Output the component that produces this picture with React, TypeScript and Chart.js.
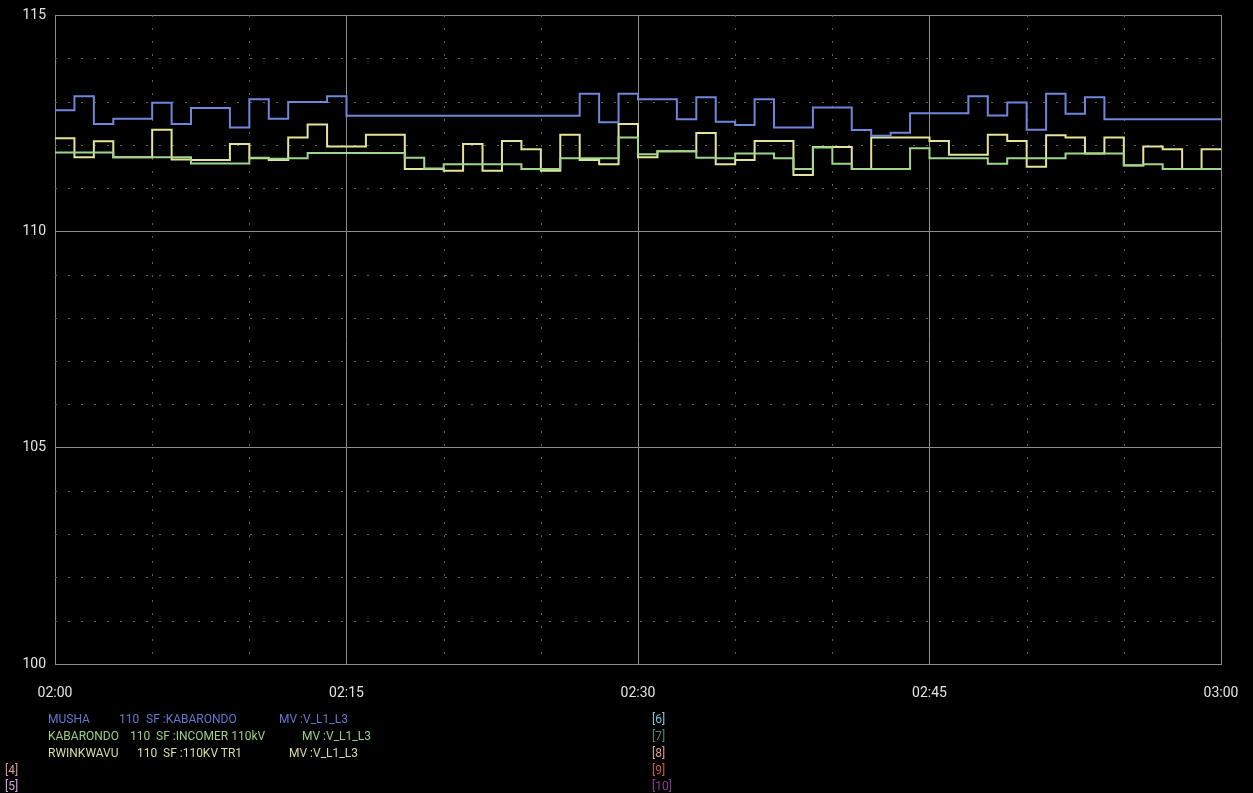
import React, { useEffect, useRef } from "react";
import { Chart, registerables } from "chart.js";

Chart.register(...registerables);

// Minutes after 02:00 (one sample per minute, 02:00 .. 02:59)
const minutes: number[] = Array.from({ length: 60 }, (_, i) => i);

const mushaValues: number[] = [
  112.8, 113.12, 112.48, 112.6, 112.6, 112.97, 112.48, 112.85, 112.85, 112.4,
  113.05, 112.6, 112.99, 112.99, 113.12, 112.67, 112.67, 112.67, 112.67, 112.67,
  112.67, 112.67, 112.67, 112.67, 112.67, 112.67, 112.67, 113.18, 112.52, 113.18,
  113.05, 113.05, 112.59, 113.1, 112.53, 112.46, 113.05, 112.4, 112.4, 112.86,
  112.86, 112.34, 112.21, 112.28, 112.73, 112.73, 112.73, 113.12, 112.68, 112.98,
  112.35, 113.18, 112.72, 113.1, 112.59, 112.59, 112.59, 112.59, 112.59, 112.59,
];

const kabarondoValues: number[] = [
  111.82, 111.82, 111.82, 111.71, 111.71, 111.71, 111.71, 111.57, 111.57, 111.57,
  111.7, 111.68, 111.69, 111.81, 111.81, 111.81, 111.81, 111.81, 111.7, 111.45,
  111.55, 111.55, 111.55, 111.55, 111.44, 111.44, 111.69, 111.69, 111.69, 112.17,
  111.78, 111.85, 111.85, 111.7, 111.69, 111.8, 111.8, 111.69, 111.44, 111.94,
  111.56, 111.44, 111.44, 111.44, 111.92, 111.69, 111.69, 111.69, 111.56, 111.69,
  111.69, 111.69, 111.8, 111.8, 111.8, 111.53, 111.55, 111.44, 111.44, 111.44,
];

const rwinkwavuValues: number[] = [
  112.15, 111.71, 112.08, 111.71, 111.71, 112.35, 111.66, 111.65, 111.65, 112.02,
  111.69, 111.65, 112.17, 112.47, 111.96, 111.96, 112.23, 112.23, 111.44, 111.44,
  111.4, 112.02, 111.4, 112.09, 111.9, 111.4, 112.23, 111.65, 111.55, 112.48,
  111.71, 111.85, 111.85, 112.27, 111.55, 111.65, 112.09, 112.09, 111.3, 111.95,
  111.95, 111.44, 112.17, 112.17, 112.17, 112.09, 111.77, 111.77, 112.23, 112.09,
  111.49, 112.22, 112.17, 111.8, 112.17, 111.52, 111.96, 111.9, 111.44, 111.9,
];

const seriesNames: string[] = ["MUSHA", "KABARONDO", "RWINKWAVU"];
const seriesColors: string[] = ["#6f86da", "#9fd68e", "#e4e496"];

const xMinorTicks: number[] = [5, 10, 20, 25, 35, 40, 50, 55];
const yMinorTicks: number[] = [101, 102, 103, 104, 106, 107, 108, 109, 111, 112, 113, 114];

type LegendPiece = { text: string; x: number };
type LegendRow = { color: string; y: number; pieces: LegendPiece[] };

const legendRows: LegendRow[] = [
  {
    color: "#6478d0",
    y: 719,
    pieces: [
      { text: "MUSHA", x: 48 },
      { text: "110", x: 119 },
      { text: "SF :KABARONDO", x: 146 },
      { text: "MV :V_L1_L3", x: 279 },
    ],
  },
  {
    color: "#9ccf86",
    y: 736,
    pieces: [
      { text: "KABARONDO", x: 48 },
      { text: "110", x: 130 },
      { text: "SF :INCOMER 110kV", x: 156 },
      { text: "MV :V_L1_L3", x: 302 },
    ],
  },
  {
    color: "#dcdca0",
    y: 753,
    pieces: [
      { text: "RWINKWAVU", x: 48 },
      { text: "110", x: 137 },
      { text: "SF :110KV TR1", x: 163 },
      { text: "MV :V_L1_L3", x: 289 },
    ],
  },
];

const slotLabels: { text: string; x: number; y: number; color: string }[] = [
  { text: "[4]", x: 5, y: 770, color: "#d89a8e" },
  { text: "[5]", x: 5, y: 786, color: "#d6a4e0" },
  { text: "[6]", x: 652, y: 719, color: "#7cc8d8" },
  { text: "[7]", x: 652, y: 736, color: "#4f8a6c" },
  { text: "[8]", x: 652, y: 753, color: "#dca48c" },
  { text: "[9]", x: 652, y: 770, color: "#cc5a4c" },
  { text: "[10]", x: 652, y: 786, color: "#8c3c98" },
];

const minorGridPlugin = {
  id: "minorGrid",
  beforeDatasetsDraw(chart: any) {
    const { ctx, chartArea, scales } = chart;
    const xs = scales.x;
    const ys = scales.y;
    ctx.save();
    ctx.strokeStyle = "#5e5e5e";
    ctx.lineWidth = 1;
    ctx.setLineDash([2, 11]);
    yMinorTicks.forEach((v) => {
      const py = Math.round(ys.getPixelForValue(v)) + 0.5;
      ctx.beginPath();
      ctx.moveTo(chartArea.left, py);
      ctx.lineTo(chartArea.right, py);
      ctx.stroke();
    });
    xMinorTicks.forEach((m) => {
      const px = Math.round(xs.getPixelForValue(m)) + 0.5;
      ctx.beginPath();
      ctx.moveTo(px, chartArea.top);
      ctx.lineTo(px, chartArea.bottom);
      ctx.stroke();
    });
    ctx.restore();
  },
};

function formatMinute(v: number): string {
  const h = 2 + Math.floor(v / 60);
  const m = v % 60;
  return `${String(h).padStart(2, "0")}:${String(m).padStart(2, "0")}`;
}

export default function App() {
  const canvasRef = useRef<HTMLCanvasElement | null>(null);

  useEffect(() => {
    if (!canvasRef.current) return;
    const allSeries = [mushaValues, kabarondoValues, rwinkwavuValues];
    const datasets = allSeries.map((vals, si) => {
      const pts = minutes.map((m, i) => ({ x: m, y: vals[i] }));
      pts.push({ x: minutes[minutes.length - 1] + 1, y: vals[vals.length - 1] });
      return {
        label: seriesNames[si],
        data: pts,
        borderColor: seriesColors[si],
        backgroundColor: seriesColors[si],
        borderWidth: 2,
        pointRadius: 0,
        stepped: true as const,
        fill: false,
      };
    });

    const chart = new Chart(canvasRef.current, {
      type: "line",
      data: { datasets },
      options: {
        animation: false,
        responsive: false,
        devicePixelRatio: 1,
        layout: { padding: { top: 15, right: 32, bottom: 0, left: 0 } },
        plugins: { legend: { display: false }, tooltip: { enabled: false } },
        scales: {
          x: {
            type: "linear",
            min: 0,
            max: 60,
            afterFit: (scale: any) => {
              scale.height = 129;
              scale.paddingLeft = 0;
              scale.paddingRight = 0;
            },
            ticks: {
              stepSize: 15,
              color: "#e2e2e2",
              padding: 21,
              maxRotation: 0,
              font: { family: "Roboto, 'Liberation Sans', sans-serif", size: 14 },
              callback: (v: any) => formatMinute(Number(v)),
            },
            grid: { color: "#8c8c8c", lineWidth: 1, drawTicks: false },
            border: { display: true, color: "#8c8c8c" },
          },
          y: {
            type: "linear",
            min: 100,
            max: 115,
            afterFit: (scale: any) => {
              scale.width = 55;
              scale.paddingTop = 0;
              scale.paddingBottom = 0;
            },
            ticks: {
              stepSize: 5,
              color: "#e2e2e2",
              padding: 9,
              font: { family: "Roboto, 'Liberation Sans', sans-serif", size: 14 },
            },
            grid: { color: "#8c8c8c", lineWidth: 1, drawTicks: false },
            border: { display: true, color: "#8c8c8c" },
          },
        },
      },
      plugins: [minorGridPlugin],
    });
    return () => chart.destroy();
  }, []);

  return (
    <div
      style={{
        position: "fixed",
        left: 0,
        top: 0,
        width: 1253,
        height: 793,
        background: "#000",
        overflow: "hidden",
      }}
    >
      <canvas ref={canvasRef} width={1253} height={793} style={{ display: "block" }} />
      {legendRows.map((row, ri) =>
        row.pieces.map((p, pi) => (
          <div
            key={`${ri}-${pi}`}
            style={{
              position: "absolute",
              left: p.x,
              top: row.y - 8,
              color: row.color,
              fontFamily: "Roboto, 'Liberation Sans', sans-serif",
              fontSize: 12,
              lineHeight: "16px",
              whiteSpace: "pre",
            }}
          >
            {p.text}
          </div>
        ))
      )}
      {slotLabels.map((s, i) => (
        <div
          key={`s${i}`}
          style={{
            position: "absolute",
            left: s.x,
            top: s.y - 8,
            color: s.color,
            fontFamily: "Roboto, 'Liberation Sans', sans-serif",
            fontSize: 12,
            lineHeight: "16px",
            whiteSpace: "pre",
          }}
        >
          {s.text}
        </div>
      ))}
    </div>
  );
}
